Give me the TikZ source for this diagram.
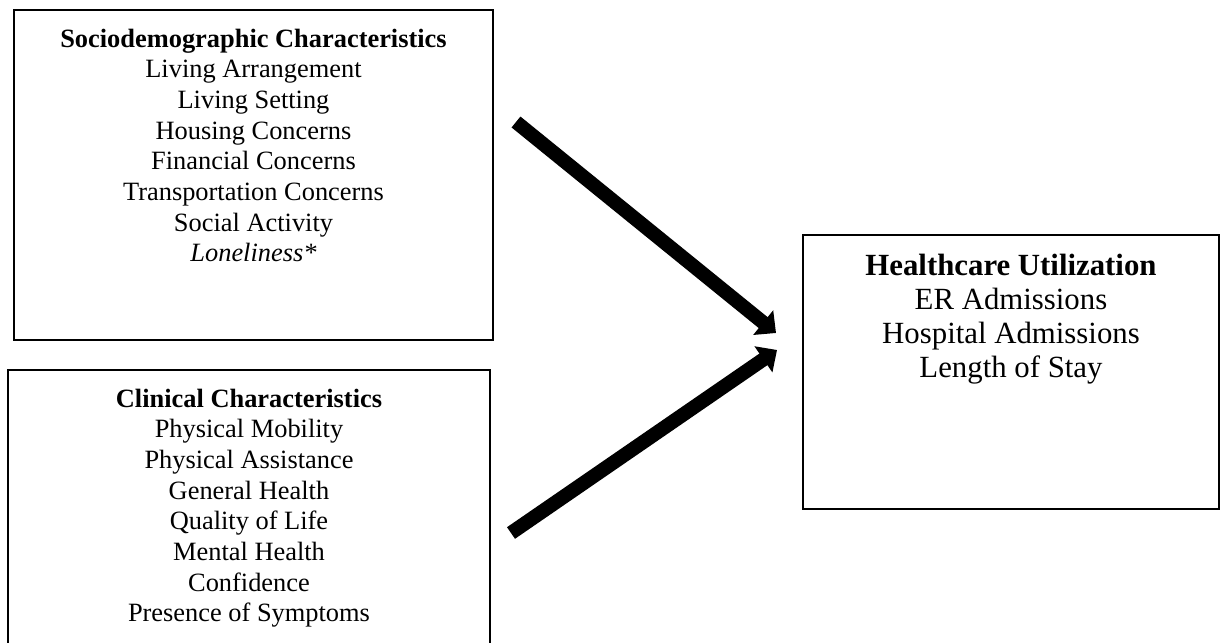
\documentclass[tikz,border=0pt]{standalone}
\usepackage{fontspec}
\setmainfont{Liberation Serif}
\usetikzlibrary{arrows.meta,fit}
\begin{document}
\begin{tikzpicture}[x=0.45455pt,y=-0.45455pt,
  boxstyle/.style={draw, line width=0.8pt, inner sep=0pt},
  itemtext/.style={anchor=base, inner sep=0pt, font=\fontsize{12}{14}\selectfont},
  headtext/.style={anchor=base, inner sep=0pt, font=\fontsize{12}{14}\selectfont\bfseries},
  bigtext/.style={anchor=base, inner sep=0pt, font=\fontsize{14}{16}\selectfont},
  bighead/.style={anchor=base, inner sep=0pt, font=\fontsize{14}{16}\selectfont\bfseries},
  bigarrow/.style={line width=6.4pt, -{Triangle[length=7.5pt,width=14pt]}}]
\useasboundingbox (0,0) rectangle (1222,643);
\clip (0,0) rectangle (1222,643);
\fill[white] (0,0) rectangle (1222,643);
% boxes
\node[boxstyle, fit={(14,10) (493,340)}] (socio) {};
\node[boxstyle, fit={(8,370) (490,660)}] (clin) {};
\node[boxstyle, fit={(803,235) (1219,509)}] (hcu) {};
% sociodemographic text
\node[headtext] (sochead) at (253.5,47) {Sociodemographic Characteristics};
\foreach \t [count=\i] in {Living Arrangement, Living Setting, Housing Concerns, Financial Concerns, Transportation Concerns, Social Activity, \textit{Loneliness*}}
  \node[itemtext] (soc\i) at (253.5,{47+30.7*\i}) {\t};
% clinical text
\node[headtext] (clinhead) at (249,407) {Clinical Characteristics};
\foreach \t [count=\i] in {Physical Mobility, Physical Assistance, General Health, Quality of Life, Mental Health, Confidence, Presence of Symptoms}
  \node[itemtext] (clin\i) at (249,{407+30.7*\i}) {\t};
% healthcare text
\node[bighead] (hcuhead) at (1011,275) {Healthcare Utilization};
\foreach \t [count=\i] in {ER Admissions, Hospital Admissions, Length of Stay}
  \node[bigtext] (hcu\i) at (1011,{275+34*\i}) {\t};
% arrows
\coordinate (a1s) at (516,122);
\coordinate (a1e) at (776,333);
\coordinate (a2s) at (511,533);
\coordinate (a2e) at (777,350);
\draw[bigarrow] (a1s) -- (a1e);
\draw[bigarrow] (a2s) -- (a2e);
\end{tikzpicture}
\end{document}
